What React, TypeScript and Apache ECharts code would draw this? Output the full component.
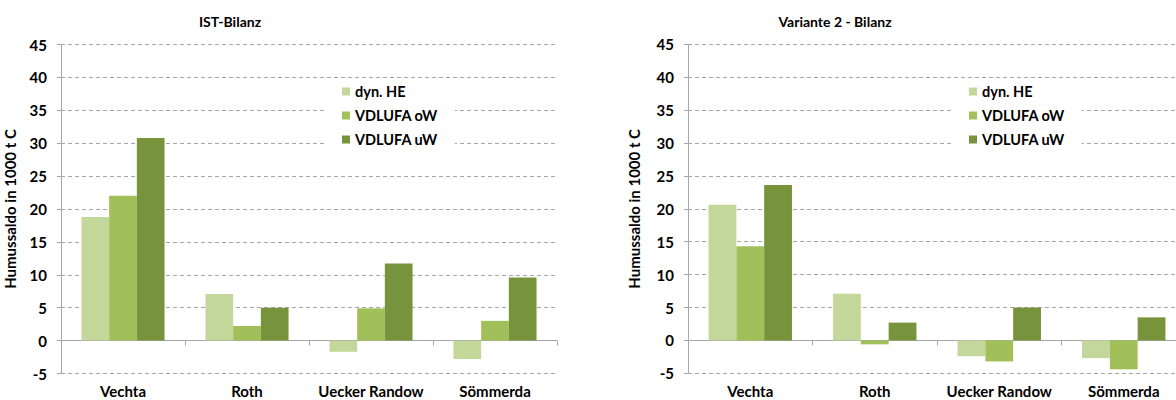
import React, { useEffect, useRef } from "react";
import * as echarts from "echarts";

const categories = ["Vechta", "Roth", "Uecker Randow", "Sömmerda"];
const seriesNames = ["dyn. HE", "VDLUFA oW", "VDLUFA uW"];
const seriesColors = ["#c4d79b", "#a2c05a", "#77933c"];

const istDynHE = [18.8, 7.1, -1.7, -2.8];
const istOW = [22.0, 2.2, 4.9, 3.0];
const istUW = [30.8, 5.0, 11.7, 9.6];

const v2DynHE = [20.6, 7.1, -2.4, -2.7];
const v2OW = [14.3, -0.6, -3.2, -4.4];
const v2UW = [23.6, 2.7, 5.0, 3.5];

const titles = ["IST-Bilanz", "Variante 2 - Bilanz"];
const yAxisName = "Humussaldo in 1000 t C";

const FONT = "Lato, 'Open Sans', sans-serif";
const AXIS_GRAY = "#a6a6a6";
const GRID_GRAY = "#a6a6a6";

export default function App() {
  const ref = useRef<HTMLDivElement>(null);

  useEffect(() => {
    if (!ref.current) return;
    const chart = echarts.init(ref.current, undefined, { renderer: "svg" });

    const grids = [
      { left: 61, top: 44.5, width: 496, height: 329, outerBoundsMode: "none", containLabel: false },
      { left: 688, top: 44.3, width: 498, height: 329, outerBoundsMode: "none", containLabel: false },
    ];

    const mkX = (gridIndex: number) => ({
      type: "category",
      gridIndex,
      data: categories,
      axisLine: { onZero: true, lineStyle: { color: AXIS_GRAY, width: 1 } },
      axisTick: { show: true, alignWithLabel: false, length: 5, lineStyle: { color: AXIS_GRAY } },
      axisLabel: {
        margin: 10,
        color: "#000",
        fontFamily: FONT,
        fontWeight: "bold",
        fontSize: 15,
        lineHeight: 15,
        interval: 0,
      },
    });

    const mkY = (gridIndex: number, nameGap: number) => ({
      type: "value",
      gridIndex,
      min: -5,
      max: 45,
      interval: 5,
      name: yAxisName,
      nameLocation: "middle",
      nameGap,
      nameRotate: 90,
      nameTextStyle: { color: "#000", fontFamily: FONT, fontWeight: "bold", fontSize: 15 },
      axisLine: { show: true, lineStyle: { color: AXIS_GRAY, width: 1 } },
      axisTick: { show: true, length: 4, lineStyle: { color: AXIS_GRAY } },
      axisLabel: {
        margin: 14,
        color: "#000",
        fontFamily: FONT,
        fontWeight: "bold",
        fontSize: 15,
      },
      splitLine: { show: true, lineStyle: { color: GRID_GRAY, type: [4, 3], width: 1 } },
    });

    const mkSeries = (data: number[][], idx: number) =>
      data.map((d, i) => ({
        type: "bar",
        name: seriesNames[i],
        xAxisIndex: idx,
        yAxisIndex: idx,
        data: d,
        barGap: "0%",
        barCategoryGap: "33%",
        itemStyle: { color: seriesColors[i] },
      }));

    const mkLegend = (left: number) => ({
      data: seriesNames,
      orient: "vertical",
      left,
      top: 80,
      icon: "rect",
      itemWidth: 8,
      itemHeight: 8,
      itemGap: 7,
      selectedMode: false,
      backgroundColor: "#ffffff",
      padding: [3, 17, 6, 17],
      textStyle: { color: "#000", fontFamily: FONT, fontWeight: "bold", fontSize: 14.5, lineHeight: 17 },
    });

    chart.setOption({
      animation: false,
      color: seriesColors,
      grid: grids,
      xAxis: [mkX(0), mkX(1)],
      yAxis: [mkY(0, 44), mkY(1, 47)],
      legend: [mkLegend(325), mkLegend(952)],
      series: [
        ...mkSeries([istDynHE, istOW, istUW], 0),
        ...mkSeries([v2DynHE, v2OW, v2UW], 1),
      ],
      graphic: [
        {
          type: "text",
          x: 230,
          y: 21,
          style: {
            text: titles[0],
            fill: "#000",
            font: `bold 14px ${FONT}`,
            textAlign: "center",
            textVerticalAlign: "middle",
          },
        },
        {
          type: "text",
          x: 835,
          y: 21,
          style: {
            text: titles[1],
            fill: "#000",
            font: `bold 14px ${FONT}`,
            textAlign: "center",
            textVerticalAlign: "middle",
          },
        },
      ],
    });

    return () => chart.dispose();
  }, []);

  return (
    <div
      ref={ref}
      style={{ position: "fixed", left: 0, top: 0, width: 1176, height: 400, background: "#fff" }}
    />
  );
}
